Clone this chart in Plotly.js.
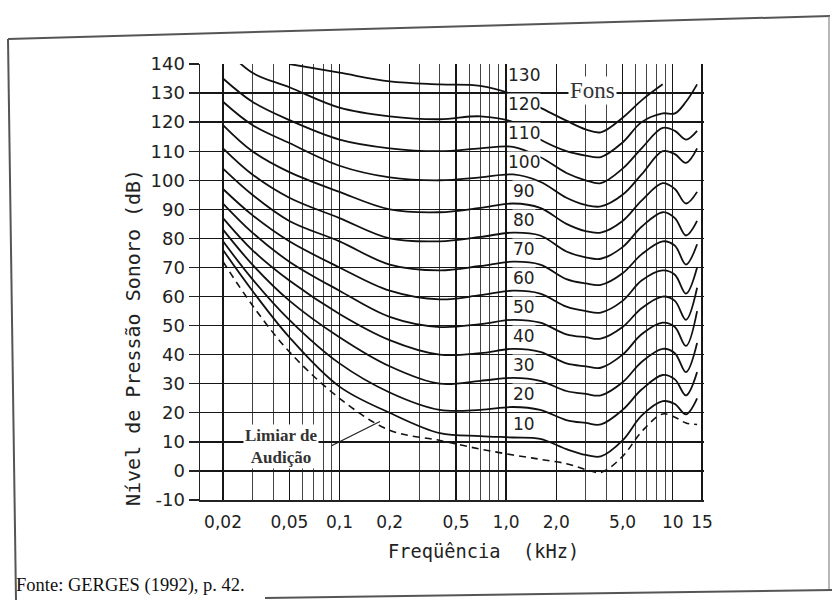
<!DOCTYPE html>
<html>
<head>
<meta charset="utf-8">
<script src="https://cdn.plot.ly/plotly-3.0.1.min.js"></script>
<style>html,body{margin:0;padding:0;background:#fff;}#chart{width:832px;height:600px;}</style>
</head>
<body>
<div id="chart"></div>
<script>
// ---- Data ----
const freq = [0.02, 0.03, 0.05, 0.1, 0.2, 0.4, 0.7, 1.1, 1.6, 2.3, 3.0, 3.7, 5.0, 6.5, 8.7, 10.3, 12, 14];
const threshold = [72, 57, 41, 25, 14, 10.5, 7.5, 5.5, 4, 2.5, 0.5, -0.5, 5, 13.5, 19.6, 18.5, 16.5, 16];
const fon10  = [76, 62, 46, 29, 20, 13, 12, 11.5, 11, 7.5, 5.5, 5, 10.5, 19, 24, 23, 19.5, 25];
const fon20  = [79, 66, 52, 37, 27, 21, 21, 22, 21, 17.5, 16.5, 16, 21, 28, 33, 31.5, 26, 34];
const fon30  = [83, 71, 58.6, 46, 36, 30, 31, 32, 31, 27.5, 26.5, 26, 30.5, 37.5, 42, 40.5, 34, 44];
const fon40  = [87, 76, 65.5, 54, 45, 40, 40.5, 42, 41, 37, 36, 35.5, 40, 47, 51, 49.5, 43, 55];
const fon50  = [92, 82, 72, 62, 53, 49.5, 50.5, 52, 51, 47, 46, 45.5, 49.5, 56, 60, 58.5, 52, 63];
const fon60  = [97, 88, 79, 70, 62, 59, 60.5, 62, 61, 56.5, 55, 54.5, 58.5, 65.5, 69, 67.5, 61, 70];
const fon70  = [104, 95, 86, 79, 71, 69, 70.5, 72, 71, 66, 64.5, 64, 68, 74.5, 79, 77.5, 71, 78];
const fon80  = [111, 102, 94, 87, 80, 79, 80.5, 82, 81, 75.5, 73.5, 73, 77, 84, 89, 87, 81, 86];
const fon90  = [119, 110, 102.8, 96, 90, 89, 90.5, 92, 90.5, 85, 82.5, 82, 86, 93, 99, 97, 92, 96];
const fon100 = [127, 119, 112.8, 105, 101, 100, 101, 102, 99.5, 94, 91.5, 91, 95, 102, 110, 109, 106, 111];
const fon110 = [135, 127, 120.7, 114, 111, 110, 111, 111.5, 108, 102.5, 100, 99, 104, 111, 118, 117, 114, 117];
const fon120 = [146, 137, 132, 125, 122, 121, 122, 120, 114, 110, 108.5, 108, 113, 120, 123, 123, 127, 133];
const fon130 = [null, null, 140, 137, 134, 133, 132.5, 129.5, 125, 120.5, 117.5, 116.5, 121.5, 127.5, 133, null, null, null];

const fonLevels = [10, 20, 30, 40, 50, 60, 70, 80, 90, 100, 110, 120, 130];
const fonSeries = [fon10, fon20, fon30, fon40, fon50, fon60, fon70, fon80, fon90, fon100, fon110, fon120, fon130];

const xTickVals = [0.02, 0.05, 0.1, 0.2, 0.5, 1.0, 2.0, 5.0, 10, 15];
const xTickText = ['0,02', '0,05', '0,1', '0,2', '0,5', '1,0', '2,0', '5,0', '10', '15'];
const yTickVals = [-10, 0, 10, 20, 30, 40, 50, 60, 70, 80, 90, 100, 110, 120, 130, 140];
const yTickText = ['-10', '0', '10', '20', '30', '40', '50', '60', '70', '80', '90', '100', '110', '120', '130', '140'];

// ---- Traces ----
const traces = fonSeries.map((ys, i) => ({
  type: 'scatter', mode: 'lines', x: freq, y: ys, name: fonLevels[i] + ' fons',
  line: {color: '#111', width: 1.8, shape: 'spline', smoothing: 1},
  connectgaps: false, hoverinfo: 'skip'
}));
traces.push({
  type: 'scatter', mode: 'lines', x: freq, y: threshold, name: 'Limiar de Audição',
  line: {color: '#111', width: 1.6, dash: '7px,5px', shape: 'spline', smoothing: 1},
  hoverinfo: 'skip'
});

// pixel helpers for page-level text (paper coords relative to the plot area)
const px = v => (v - 200) / 504, py = v => (500 - v) / 436;

// ---- Annotations ----
const labelFont = {family: 'DejaVu Sans, sans-serif', size: 17, color: '#222'};
const annotations = fonLevels.map(p => ({
  xref: 'x', yref: 'y', x: Math.log10(1.28), y: p + 6.3, text: String(p),
  showarrow: false, font: labelFont, bgcolor: '#fff', borderpad: 0, xanchor: 'center', yanchor: 'middle'
}));
annotations.push({
  xref: 'x', yref: 'y', x: Math.log10(3.3), y: 131, text: 'Fons', showarrow: false,
  font: {family: 'Liberation Serif, serif', size: 23, color: '#333'}, bgcolor: '#fff', borderpad: 1
});
annotations.push({
  xref: 'x', yref: 'y', x: Math.log10(0.0446), y: 8.4, text: '<b>Limiar de</b><br><b>Audição</b>', showarrow: false,
  font: {family: 'Liberation Serif, serif', size: 17, color: '#333'}, bgcolor: '#fff', borderpad: 1, align: 'center'
});
annotations.push({
  xref: 'x', yref: 'y', x: Math.log10(0.175), y: 17, text: '', showarrow: true,
  arrowhead: 0, arrowwidth: 1.3, arrowcolor: '#222', ax: -50, ay: 25
});
annotations.push({
  xref: 'paper', yref: 'paper', x: px(133), y: py(338), xanchor: 'center', yanchor: 'middle', textangle: -90,
  text: 'Nível de Pressão Sonoro (dB)', showarrow: false,
  font: {family: 'DejaVu Sans Mono, monospace', size: 20, color: '#222'}
});
annotations.push({
  xref: 'paper', yref: 'paper', x: px(483), y: py(551), xanchor: 'center', yanchor: 'middle',
  text: 'Freqüência  (kHz)', showarrow: false,
  font: {family: 'DejaVu Sans Mono, monospace', size: 18.7, color: '#222'}
});
annotations.push({
  xref: 'paper', yref: 'paper', x: px(14), y: py(585), xanchor: 'left', yanchor: 'middle',
  text: 'Fonte: GERGES (1992), p. 42.', showarrow: false,
  font: {family: 'Liberation Serif, serif', size: 18.5, color: '#111'}
});

// ---- Frame of the scanned page ----
const frameLine = {color: '#555', width: 2};
const shapes = [
  {type: 'line', xref: 'paper', yref: 'paper', x0: px(8), y0: py(39), x1: px(830), y1: py(16), line: frameLine},
  {type: 'line', xref: 'paper', yref: 'paper', x0: px(8), y0: py(39), x1: px(16), y1: py(600), line: frameLine},
  {type: 'line', xref: 'paper', yref: 'paper', x0: px(829), y0: py(16), x1: px(829), y1: py(590), line: {color: '#888', width: 1.2}},
  {type: 'line', xref: 'paper', yref: 'paper', x0: px(265), y0: py(598), x1: px(832), y1: py(590), line: frameLine}
];

const gridCol = '#161616';
const layout = {
  width: 832, height: 600,
  margin: {l: 200, r: 128, t: 64, b: 100},
  paper_bgcolor: '#fff', plot_bgcolor: '#fff',
  showlegend: false,
  font: {family: 'DejaVu Sans, sans-serif', color: '#222'},
  xaxis: {
    type: 'log', range: [Math.log10(0.01455), Math.log10(15.4)],
    tickmode: 'array', tickvals: xTickVals, ticktext: xTickText,
    tickfont: {family: 'DejaVu Sans, sans-serif', size: 17, color: '#222'},
    ticks: '', ticklabelstandoff: 6, showgrid: true, gridcolor: gridCol, gridwidth: 1.3,
    minor: {dtick: 'D1', showgrid: true, gridcolor: '#444', gridwidth: 1, ticks: ''},
    showline: true, linecolor: '#222', linewidth: 1.5, zeroline: false, mirror: false,
    fixedrange: true
  },
  yaxis: {
    range: [-10, 140], tickmode: 'array', tickvals: yTickVals, ticktext: yTickText,
    tickfont: {family: 'DejaVu Sans, sans-serif', size: 18, color: '#222'},
    ticks: 'outside', ticklen: 10, tickcolor: '#222', tickwidth: 1.3,
    showgrid: true, gridcolor: gridCol, gridwidth: 1.3,
    showline: true, linecolor: '#222', linewidth: 1.5, zeroline: false,
    fixedrange: true
  },
  annotations: annotations,
  shapes: shapes
};

Plotly.newPlot('chart', traces, layout, {staticPlot: true, displayModeBar: false});
</script>
</body>
</html>
